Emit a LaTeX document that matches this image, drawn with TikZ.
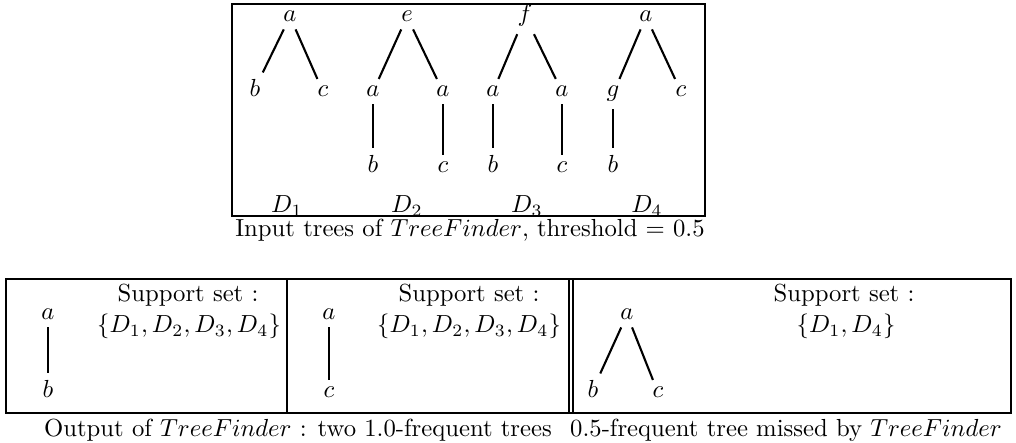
\documentclass[tikz,border=0pt]{standalone}
\begin{document}
\begin{tikzpicture}[x=0.405pt,y=-0.405pt,
  lbl/.style={anchor=base,inner sep=2.8pt,font=\normalsize},
  txt/.style={anchor=base,inner sep=0pt,font=\normalsize},
  edge/.style={line width=0.85pt},
  frame/.style={line width=1.1pt},
  divider/.style={line width=0.9pt}]
\useasboundingbox (0,0) rectangle (1016,443);

% ---------- top: input trees ----------
% D1
\node[lbl] (a1) at (290,22) {$a$};
\node[lbl] (b1) at (255,97) {$b$};
\node[lbl] (c1) at (323,97) {$c$};
\draw[edge] (a1) -- (b1);
\draw[edge] (a1) -- (c1);
% D2
\node[lbl] (e2) at (407,22) {$e$};
\node[lbl] (a2l) at (373,97) {$a$};
\node[lbl] (a2r) at (443,97) {$a$};
\node[lbl] (b2) at (373,173) {$b$};
\node[lbl] (c2) at (443,173) {$c$};
\draw[edge] (e2) -- (a2l);
\draw[edge] (e2) -- (a2r);
\draw[edge] (a2l) -- (b2);
\draw[edge] (a2r) -- (c2);
% D3
\node[lbl] (f3) at (525,22) {$f$};
\node[lbl] (a3l) at (493,97) {$a$};
\node[lbl] (a3r) at (562,97) {$a$};
\node[lbl] (b3) at (493,173) {$b$};
\node[lbl] (c3) at (562,173) {$c$};
\draw[edge] (f3) -- (a3l);
\draw[edge] (f3) -- (a3r);
\draw[edge] (a3l) -- (b3);
\draw[edge] (a3r) -- (c3);
% D4
\node[lbl] (a4) at (646,22) {$a$};
\node[lbl] (g4) at (613,97) {$g$};
\node[lbl] (c4) at (681,97) {$c$};
\node[lbl] (b4) at (613,173) {$b$};
\draw[edge] (a4) -- (g4);
\draw[edge] (a4) -- (c4);
\draw[edge] (g4) -- (b4);
% labels
\node[txt] (D1) at (287,213) {$D_1$};
\node[txt] (D2) at (407,213) {$D_2$};
\node[txt] (D3) at (527,213) {$D_3$};
\node[txt] (D4) at (647,213) {$D_4$};
\draw[frame] (232,4) rectangle (705,216);
\node[txt] (captop) at (470,237) {Input trees of $TreeFinder$, threshold $=$ 0.5};

% ---------- bottom: output ----------
% panel 1
\node[lbl] (p1a) at (48,320) {$a$};
\node[lbl] (p1b) at (48,398) {$b$};
\draw[edge] (p1a) -- (p1b);
\node[txt] (s1) at (188,302) {Support set :};
\node[txt] (t1) at (189,333) {$\{D_1, D_2, D_3, D_4\}$};
% panel 2
\node[lbl] (p2a) at (329,320) {$a$};
\node[lbl] (p2c) at (329,398) {$c$};
\draw[edge] (p2a) -- (p2c);
\node[txt] (s2) at (469,302) {Support set :};
\node[txt] (t2) at (469,333) {$\{D_1, D_2, D_3, D_4\}$};
% panel 3
\node[lbl] (p3a) at (627,320) {$a$};
\node[lbl] (p3b) at (593,398) {$b$};
\node[lbl] (p3c) at (658,398) {$c$};
\draw[edge] (p3a) -- (p3b);
\draw[edge] (p3a) -- (p3c);
\node[txt] (s3) at (844,302) {Support set :};
\node[txt] (t3) at (846,333) {$\{D_1, D_4\}$};
% frames
\draw[frame] (6,279) rectangle (1011,413);
\draw[divider] (287,279) -- (287,413);
\draw[divider] (569,279) -- (569,413);
\draw[divider] (573,279) -- (573,413);
% captions
\node[txt] (capl) at (298,437) {Output of $TreeFinder$ : two 1.0-frequent trees};
\node[txt] (capr) at (786,437) {0.5-frequent tree missed by $TreeFinder$};
\end{tikzpicture}
\end{document}
